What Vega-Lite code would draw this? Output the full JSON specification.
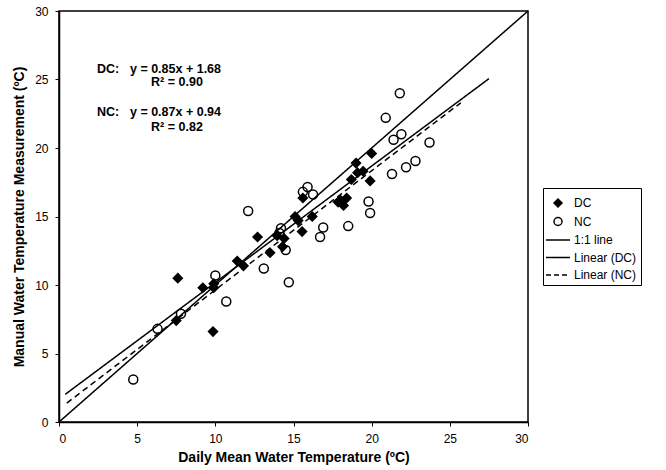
{
  "$schema": "https://vega.github.io/schema/vega-lite/v6.json",
  "width": 469,
  "height": 411,
  "padding": {"left": 12, "top": 5, "right": 5, "bottom": 2},
  "background": "white",
  "config": {
    "font": "Liberation Sans",
    "view": {"stroke": "black", "strokeWidth": 1.5},
    "axis": {
      "grid": false,
      "domainColor": "black",
      "domainWidth": 1.5,
      "tickColor": "black",
      "tickSize": 4,
      "labelFont": "Liberation Sans",
      "labelFontSize": 12,
      "labelColor": "black",
      "titleFont": "Liberation Sans",
      "titleFontSize": 14,
      "titleFontWeight": "bold",
      "titleColor": "black"
    },
    "axisX": {"labelPadding": 7, "titlePadding": 6},
    "axisY": {"labelPadding": 7, "titlePadding": 8}
  },
  "datasets": {
    "points": [
      {"group": "DC", "x": 7.6, "y": 10.5},
      {"group": "DC", "x": 7.5, "y": 7.4},
      {"group": "DC", "x": 9.2, "y": 9.8},
      {"group": "DC", "x": 9.85, "y": 6.6},
      {"group": "DC", "x": 9.9, "y": 10.1},
      {"group": "DC", "x": 9.9, "y": 9.8},
      {"group": "DC", "x": 11.4, "y": 11.75},
      {"group": "DC", "x": 11.8, "y": 11.4},
      {"group": "DC", "x": 12.7, "y": 13.5},
      {"group": "DC", "x": 13.5, "y": 12.35},
      {"group": "DC", "x": 13.95, "y": 13.6},
      {"group": "DC", "x": 14.4, "y": 13.4},
      {"group": "DC", "x": 14.3, "y": 12.8},
      {"group": "DC", "x": 15.1, "y": 15.0},
      {"group": "DC", "x": 15.3, "y": 14.7},
      {"group": "DC", "x": 15.55, "y": 13.9},
      {"group": "DC", "x": 15.6, "y": 16.35},
      {"group": "DC", "x": 16.2, "y": 15.0},
      {"group": "DC", "x": 17.85, "y": 16.05},
      {"group": "DC", "x": 18.2, "y": 15.8},
      {"group": "DC", "x": 18.4, "y": 16.35},
      {"group": "DC", "x": 18.0, "y": 16.2},
      {"group": "DC", "x": 18.7, "y": 17.7},
      {"group": "DC", "x": 19.1, "y": 18.2},
      {"group": "DC", "x": 19.45, "y": 18.3},
      {"group": "DC", "x": 19.9, "y": 17.6},
      {"group": "DC", "x": 19.0, "y": 18.9},
      {"group": "DC", "x": 20.0, "y": 19.6},
      {"group": "NC", "x": 4.75, "y": 3.1},
      {"group": "NC", "x": 6.3, "y": 6.8},
      {"group": "NC", "x": 7.8, "y": 7.9},
      {"group": "NC", "x": 10.0, "y": 10.7},
      {"group": "NC", "x": 10.7, "y": 8.8},
      {"group": "NC", "x": 12.1, "y": 15.4},
      {"group": "NC", "x": 13.1, "y": 11.2},
      {"group": "NC", "x": 14.2, "y": 14.15},
      {"group": "NC", "x": 14.1, "y": 13.8},
      {"group": "NC", "x": 14.5, "y": 12.55},
      {"group": "NC", "x": 14.7, "y": 10.2},
      {"group": "NC", "x": 15.6, "y": 16.8},
      {"group": "NC", "x": 15.9, "y": 17.15},
      {"group": "NC", "x": 16.25, "y": 16.6},
      {"group": "NC", "x": 16.9, "y": 14.2},
      {"group": "NC", "x": 16.7, "y": 13.5},
      {"group": "NC", "x": 18.5, "y": 14.3},
      {"group": "NC", "x": 19.8, "y": 16.1},
      {"group": "NC", "x": 19.9, "y": 15.25},
      {"group": "NC", "x": 20.9, "y": 22.2},
      {"group": "NC", "x": 21.8, "y": 24.0},
      {"group": "NC", "x": 21.4, "y": 20.6},
      {"group": "NC", "x": 21.9, "y": 21.0},
      {"group": "NC", "x": 23.7, "y": 20.4},
      {"group": "NC", "x": 21.3, "y": 18.1},
      {"group": "NC", "x": 22.2, "y": 18.6},
      {"group": "NC", "x": 22.8, "y": 19.05}
    ],
    "lines": [
      {"series": "1:1 line", "x": 0, "y": 0},
      {"series": "1:1 line", "x": 30, "y": 30},
      {"series": "Linear (DC)", "x": 0.4, "y": 2.02},
      {"series": "Linear (DC)", "x": 27.5, "y": 25.06},
      {"series": "Linear (NC)", "x": 0.5, "y": 1.38},
      {"series": "Linear (NC)", "x": 25.7, "y": 23.3}
    ],
    "notes": [
      {"label": "DC:", "x": 2.43, "y": 25.77},
      {"label": "y = 0.85x + 1.68", "x": 4.54, "y": 25.77},
      {"label": "R² = 0.90", "x": 5.89, "y": 24.8},
      {"label": "NC:", "x": 2.43, "y": 22.6},
      {"label": "y = 0.87x + 0.94", "x": 4.54, "y": 22.6},
      {"label": "R² = 0.82", "x": 5.89, "y": 21.5}
    ]
  },
  "layer": [
    {
      "data": {"name": "lines"},
      "mark": {"type": "line", "color": "black", "strokeWidth": 1.5},
      "encoding": {
        "x": {"field": "x", "type": "quantitative", "scale": {"domain": [0, 30], "nice": false}, "axis": {"values": [0, 5, 10, 15, 20, 25, 30], "title": "Daily Mean Water Temperature (ºC)"}},
        "y": {"field": "y", "type": "quantitative", "scale": {"domain": [0, 30], "nice": false}, "axis": {"values": [0, 5, 10, 15, 20, 25, 30], "title": "Manual Water Temperature Measurement (ºC)"}},
        "detail": {"field": "series"},
        "strokeDash": {
          "field": "series",
          "scale": {"domain": ["1:1 line", "Linear (DC)", "Linear (NC)"], "range": [[1, 0], [1, 0], [6, 4]]},
          "legend": null
        }
      }
    },
    {
      "data": {"name": "points"},
      "mark": {"type": "point", "filled": false, "color": "black", "stroke": "black", "strokeWidth": 1.5, "opacity": 1, "size": 506},
      "encoding": {
        "x": {"field": "x", "type": "quantitative"},
        "y": {"field": "y", "type": "quantitative"},
        "shape": {
          "field": "group",
          "scale": {
            "domain": ["DC", "NC", "1:1 line", "Linear (DC)", "Linear (NC)"],
            "range": [
              "M0,-0.4L0.4,0L0,0.4L-0.4,0ZM0,-0.27L0.27,0L0,0.27L-0.27,0ZM0,-0.14L0.14,0L0,0.14L-0.14,0ZM0,-0.04L0.04,0L0,0.04L-0.04,0Z",
              "M0.4,0A0.4,0.4,0,1,1,-0.4,0A0.4,0.4,0,1,1,0.4,0Z",
              "M-1.2,0H1.2",
              "M-1.2,0H1.2",
              "M-1.2,0H-0.7M-0.4,0H0.1M0.4,0H0.9"
            ]
          },
          "legend": {
            "title": null,
            "orient": "none",
            "legendX": 484,
            "legendY": 177,
            "strokeColor": "black",
            "padding": 4,
            "symbolSize": 400,
            "rowPadding": 0.5,
            "labelFontSize": 12,
            "labelColor": "black",
            "labelFont": "Liberation Sans",
            "labelOffset": 5,
            "symbolStrokeColor": "black",
            "symbolFillColor": "transparent",
            "symbolStrokeWidth": 1.5
          }
        }
      }
    },
    {
      "data": {"name": "notes"},
      "mark": {"type": "text", "align": "left", "baseline": "middle", "font": "Liberation Sans", "fontWeight": "bold", "fontSize": 12.5, "color": "black"},
      "encoding": {
        "x": {"field": "x", "type": "quantitative"},
        "y": {"field": "y", "type": "quantitative"},
        "text": {"field": "label"}
      }
    }
  ]
}
